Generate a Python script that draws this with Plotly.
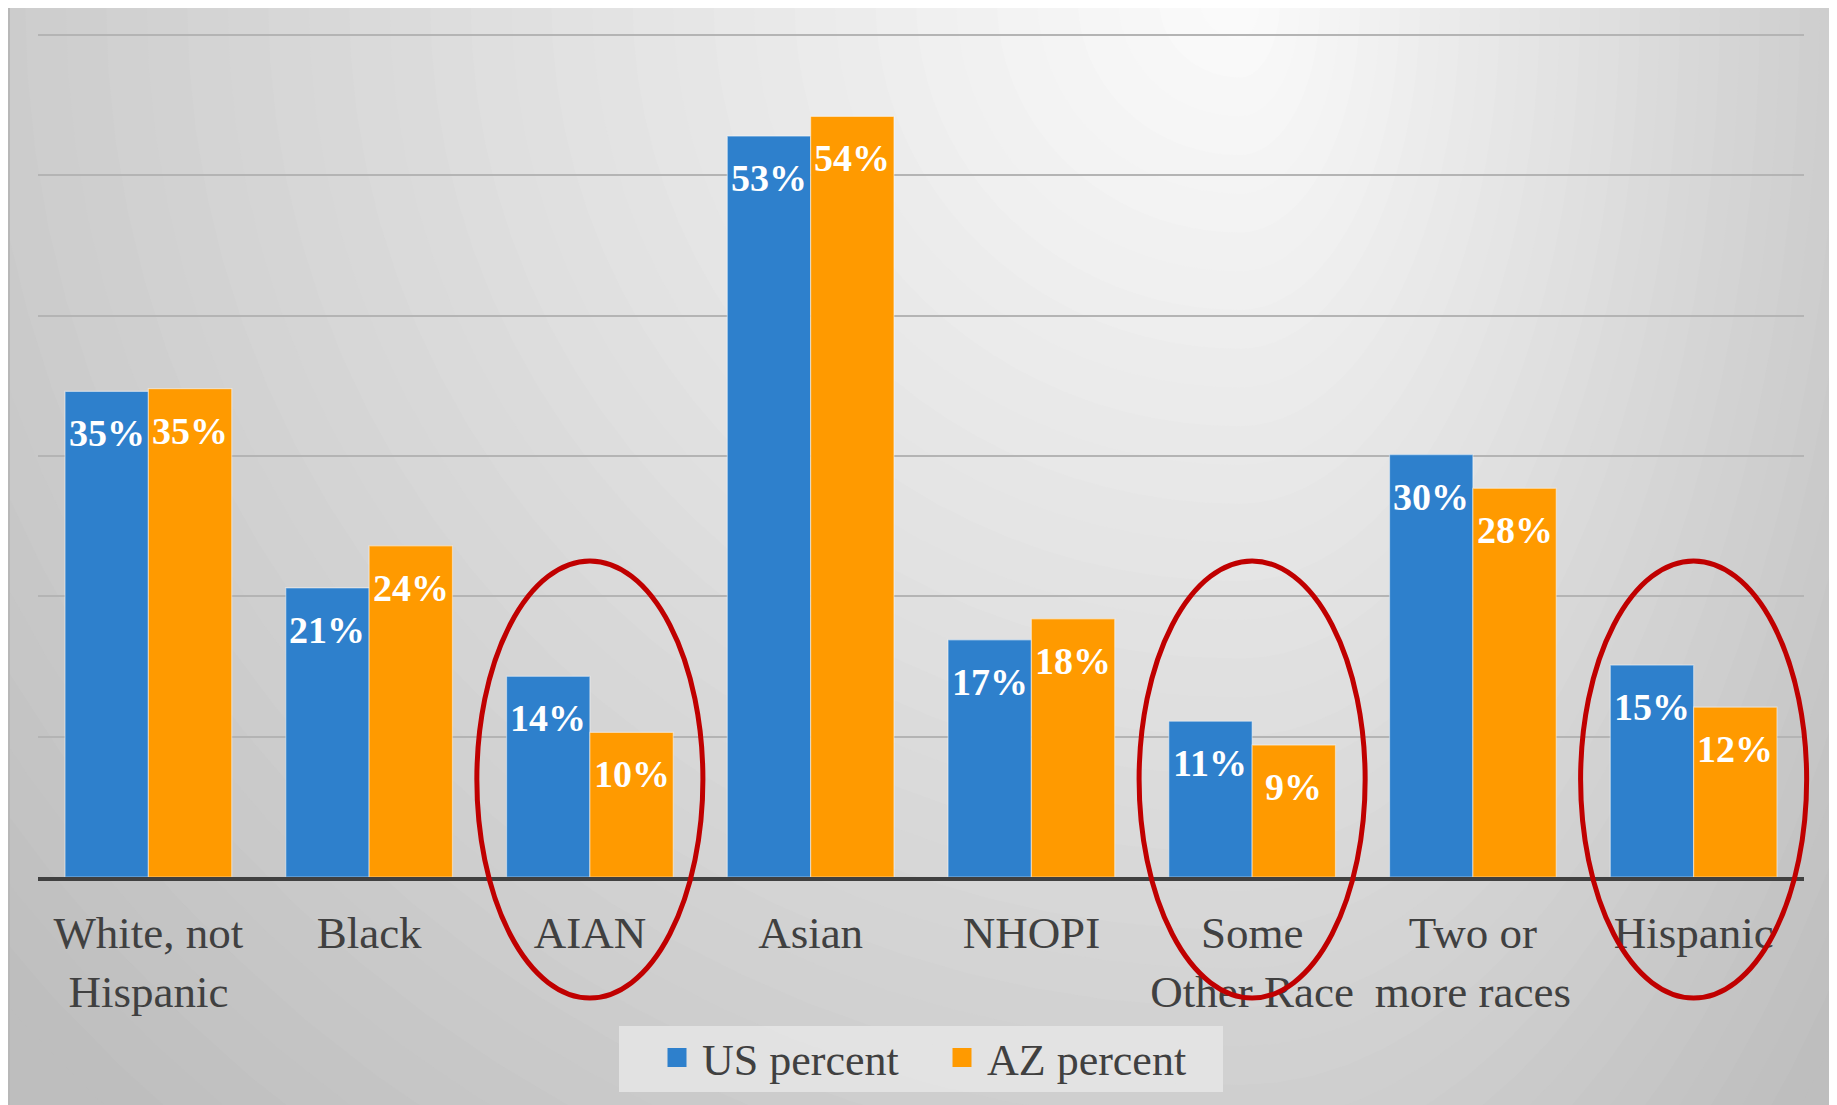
import plotly.graph_objects as go
import math

# ---------------- data ----------------
categories = ["White, not<br>Hispanic", "Black", "AIAN", "Asian", "NHOPI",
              "Some<br>Other Race", "Two or<br>more races", "Hispanic"]
us_percent = [34.6, 20.6, 14.3, 52.8, 16.9, 11.1, 30.1, 15.1]
az_percent = [34.8, 23.6, 10.3, 54.2, 18.4, 9.4, 27.7, 12.1]
circled = ["AIAN", "Some<br>Other Race", "Hispanic"]

# ---------------- geometry ----------------
OFF = 8                       # page body margin
W, H = 1837 - OFF, 1105 - OFF
PLf, PRf, PBf = 38 - OFF, 1804 - OFF, 877 - OFF
G60 = 35 - OFF                 # pixel row of the 60% gridline
PTf = 20
YMAX = 60 * (PBf - PTf) / (PBf - G60)


def px(wx):
    return ((wx - OFF) - PLf) / (PRf - PLf)


def py(wy):
    return (PBf - (wy - OFF)) / (PBf - PTf)


BLUE = "#2E80CC"
ORANGE = "#FF9A00"
TXT = "#404040"
FONT = "Liberation Serif"

fig = go.Figure()
for nm, vals, col in [("US percent", us_percent, BLUE), ("AZ percent", az_percent, ORANGE)]:
    fig.add_trace(go.Bar(
        x=categories, y=vals, name=nm,
        marker=dict(color=col, line=dict(color="rgba(255,255,255,0.45)", width=1.2)),
        showlegend=False, hoverinfo="skip"))

# legend entries (larger square symbols)
for nm, col in [("US percent", BLUE), ("AZ percent", ORANGE)]:
    fig.add_trace(go.Scatter(x=[None], y=[None], mode="markers", name=nm,
                             marker=dict(symbol="square", size=16, color=col,
                                         line=dict(color=col, width=3)),
                             showlegend=True, hoverinfo="skip"))

# data labels: inside the top of each bar
bar_half = (1 - 0.245) * (PRf - PLf) / len(categories) / 4
annotations = []
for vals, sh in [(us_percent, -bar_half), (az_percent, bar_half)]:
    for c, v in zip(categories, vals):
        annotations.append(dict(x=c, y=v, xref="x", yref="y", xshift=sh, yshift=-19,
                                yanchor="top", xanchor="center", showarrow=False,
                                text=f"{v:.0f}%",
                                font=dict(family=FONT, size=38, color="white", weight="bold")))

shapes = []
# ---- background gradient (nested asymmetric ellipses) ----
cx, cy = 1240, 0
RL, RR, RD = 1620, 800, 1550
N = 40
for k in range(N, 0, -1):
    t = k / N
    g = int(round(252 - 62 * t))
    pts = []
    for i in range(97):
        a = 2 * math.pi * i / 96
        ca, sa = math.cos(a), math.sin(a)
        rx = (RL if ca < 0 else RR) * t
        X = cx + rx * ca
        Y = cy + RD * t * sa
        pts.append(f"{px(X):.5f},{py(Y):.5f}")
    shapes.append(dict(type="path", xref="paper", yref="paper",
                       path="M" + " L".join(pts) + " Z",
                       fillcolor=f"rgb({g},{g},{g})", line=dict(width=0),
                       layer="below"))

# slide frame
shapes.append(dict(type="rect", xref="paper", yref="paper",
                   x0=px(1835), x1=px(1850), y0=py(1120), y1=py(0),
                   fillcolor="#f4f4f4", line=dict(width=0), layer="below"))
shapes.append(dict(type="rect", xref="paper", yref="paper",
                   x0=px(9), x1=px(1835), y0=py(1110), y1=py(7),
                   fillcolor="rgba(0,0,0,0)", line=dict(color="#b8b8b8", width=2),
                   layer="below"))
# legend box
shapes.append(dict(type="rect", xref="paper", yref="paper",
                   x0=px(619), x1=px(1223), y0=py(1092), y1=py(1026),
                   fillcolor="rgba(228,228,228,0.9)", line=dict(width=0), layer="below"))

# ---- red highlight ellipses ----
ncat = len(categories)
for c in circled:
    i = categories.index(c)
    xc = (i + 0.5) / ncat
    shapes.append(dict(type="circle", xref="paper", yref="paper",
                       x0=xc - 0.512 / ncat, x1=xc + 0.512 / ncat,
                       y0=py(998), y1=py(561),
                       line=dict(color="#C00000", width=5),
                       fillcolor="rgba(0,0,0,0)", layer="above"))

fig.update_layout(
    width=W, height=H,
    margin=dict(l=PLf, r=W - PRf, t=PTf, b=H - PBf, pad=0),
    paper_bgcolor="rgb(190,190,190)",
    plot_bgcolor="rgba(0,0,0,0)",
    barmode="group", bargap=0.245, bargroupgap=0,
    font=dict(family=FONT, color=TXT, size=44),
    shapes=shapes, annotations=annotations,
    showlegend=True,
    legend=dict(orientation="h", x=px(652), xanchor="left", y=py(1058), yanchor="middle",
                bgcolor="rgba(0,0,0,0)", font=dict(family=FONT, size=44, color=TXT),
                entrywidth=230, itemwidth=40, itemsizing="trace", borderwidth=0),
    xaxis=dict(showline=True, linecolor=TXT, linewidth=4, ticks="",
               tickfont=dict(family=FONT, size=45, color=TXT),
               ticklabelstandoff=13, showgrid=False, fixedrange=True),
    yaxis=dict(range=[0, YMAX], tickvals=[10, 20, 30, 40, 50, 60], showticklabels=False,
               showgrid=True, gridcolor="#b4b4b4", gridwidth=1.5, zeroline=False,
               showline=False, fixedrange=True),
)

fig.write_html("out.html", config={"displayModeBar": False})
